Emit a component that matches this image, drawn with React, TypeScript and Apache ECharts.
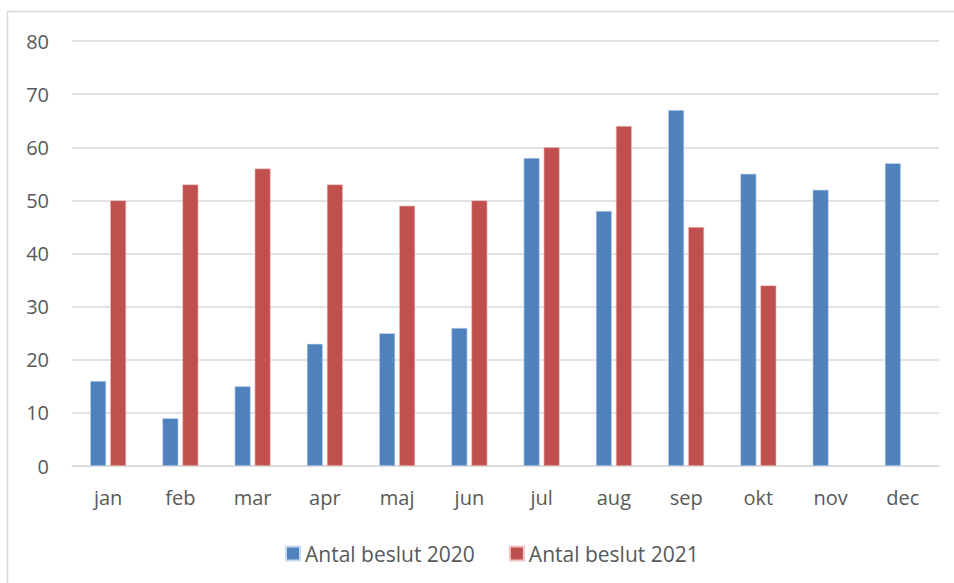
import React, { useEffect, useRef } from "react";
import * as echarts from "echarts";

const months = ["jan", "feb", "mar", "apr", "maj", "jun", "jul", "aug", "sep", "okt", "nov", "dec"];
const beslut2020 = [16, 9, 15, 23, 25, 26, 58, 48, 67, 55, 52, 57];
const beslut2021: (number | null)[] = [50, 53, 56, 53, 49, 50, 60, 64, 45, 34, null, null];
const yTicks = { min: 0, max: 80, interval: 10 };

export default function App() {
  const ref = useRef<HTMLDivElement>(null);
  useEffect(() => {
    if (!ref.current) return;
    const chart = echarts.init(ref.current, null, { renderer: "svg" });
    const font = "'Open Sans', 'Noto Sans', sans-serif";
    chart.setOption({
      animation: false,
      backgroundColor: "#ffffff",
      graphic: [
        {
          type: "rect",
          shape: { x: 7.5, y: 11.5, width: 980, height: 620 },
          style: { fill: "none", stroke: "#d9d9d9", lineWidth: 1.5 },
          silent: true,
        },
      ],
      grid: { left: 72, right: 15, top: 41, bottom: 117 },
      legend: {
        left: 280,
        top: 538,
        itemWidth: 14,
        itemHeight: 14,
        itemGap: 34,
        icon: "rect",
        textStyle: { color: "#595959", fontSize: 21, fontFamily: font },
        data: ["Antal beslut 2020", "Antal beslut 2021"],
      },
      xAxis: {
        type: "category",
        data: months,
        axisLine: { lineStyle: { color: "#d9d9d9", width: 1.5 } },
        axisTick: { show: false },
        axisLabel: { color: "#595959", fontSize: 20, fontFamily: font, margin: 21 },
      },
      yAxis: {
        type: "value",
        min: yTicks.min,
        max: yTicks.max,
        interval: yTicks.interval,
        axisLine: { show: false },
        axisTick: { show: false },
        splitLine: { lineStyle: { color: "#d9d9d9", width: 1.5 } },
        axisLabel: { color: "#595959", fontSize: 20, fontFamily: font, margin: 23 },
      },
      series: [
        {
          name: "Antal beslut 2020",
          type: "bar",
          data: beslut2020,
          barWidth: 16,
          barGap: "25%",
          itemStyle: { color: "#4f81bd", borderColor: "#c9d9ee", borderWidth: 0.6 },
        },
        {
          name: "Antal beslut 2021",
          type: "bar",
          data: beslut2021,
          barWidth: 16,
          barGap: "25%",
          itemStyle: { color: "#c0504d", borderColor: "#eec7c6", borderWidth: 0.6 },
        },
      ],
    });
    return () => chart.dispose();
  }, []);
  return (
    <div
      ref={ref}
      style={{ position: "absolute", left: 0, top: 0, width: 954, height: 583 }}
    />
  );
}
